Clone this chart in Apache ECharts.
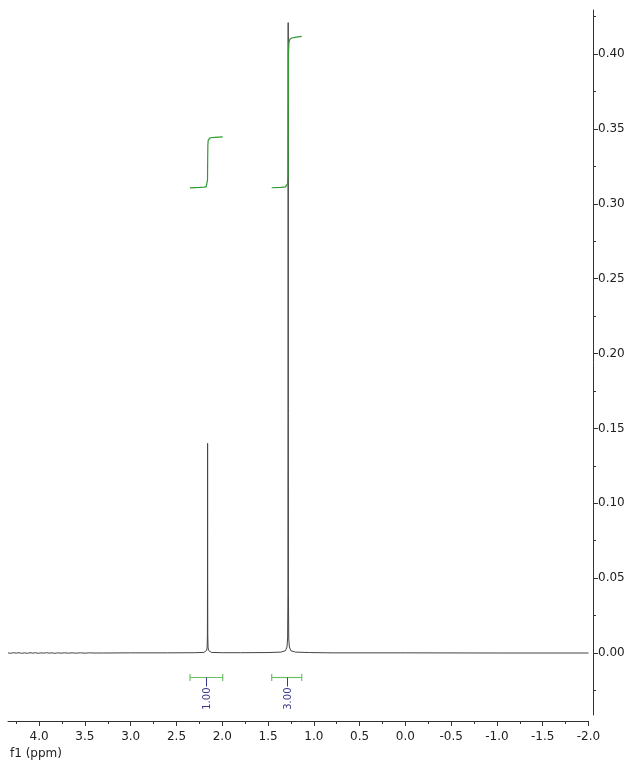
<!DOCTYPE html>
<html>
<head>
<meta charset="utf-8">
<title>1H NMR spectrum</title>
<script src="https://cdn.jsdelivr.net/npm/echarts@6/dist/echarts.min.js"></script>
<style>
  html, body { margin: 0; padding: 0; background: #ffffff; }
  #chart { width: 632px; height: 764px; }
</style>
</head>
<body>
<div id="chart"></div>
<script>
// Spectrum trace: chemical shift (ppm) and intensity
const specPpm = [
  4.34, 4.31, 4.28, 4.25, 4.22, 4.19, 4.16, 4.13, 4.10, 4.07, 4.04, 4.01, 3.98, 3.95, 3.92, 3.89, 3.86, 3.83, 3.80, 3.76,
  3.72, 3.68, 3.64, 3.60, 3.55, 3.50, 3.45, 3.40, 3.30, 3.00, 2.60, 2.30, 2.20, 2.18, 2.170, 2.165, 2.162, 2.1608, 2.160,
  2.1592, 2.158, 2.155, 2.150, 2.14, 2.12, 2.00, 1.80, 1.50, 1.36, 1.31, 1.293, 1.286, 1.2825, 1.2808, 1.280, 1.2792,
  1.2775, 1.274, 1.267, 1.25, 1.20, 1.05, 0.80, 0.00, -1.00, -2.00
];
const specInt = [
  0.0001, -0.0002, 0.0002, -0.0001, 0.0002, -0.0002, 0.0001, -0.0002, 0.0002, -0.0001, 0.0002, -0.0002, 0.0001, -0.0001, 0.0002, -0.0001, 0.0001, -0.0002, 0.0001, -0.0001,
  0.0001, -0.0001, 0.0001, -0.0001, 0.0001, -0.0001, 0.0001, 0.0000, 0.0000, 0.0001, 0.0001, 0.0002, 0.0004, 0.0008, 0.0018, 0.004, 0.012, 0.06, 0.140,
  0.06, 0.012, 0.004, 0.0018, 0.0008, 0.0004, 0.0002, 0.0002, 0.0003, 0.0006, 0.0015, 0.004, 0.010, 0.040, 0.16, 0.421, 0.16,
  0.040, 0.010, 0.004, 0.0015, 0.0006, 0.0003, 0.0001, 0.0001, 0.0000, 0.0000
];

// Integral curves
const integ1Ppm = [2.352, 2.25, 2.20, 2.175, 2.166, 2.161, 2.159, 2.157, 2.153, 2.145, 2.13, 2.08, 1.995];
const integ1Val = [0.3106, 0.3109, 0.3111, 0.3114, 0.3122, 0.316, 0.330, 0.3395, 0.3425, 0.3436, 0.3441, 0.3444, 0.3447];
const integ2Ppm = [1.460, 1.36, 1.31, 1.295, 1.286, 1.281, 1.279, 1.277, 1.272, 1.262, 1.24, 1.19, 1.132];
const integ2Val = [0.3107, 0.3110, 0.3113, 0.3118, 0.3135, 0.320, 0.360, 0.400, 0.4075, 0.4098, 0.4107, 0.4113, 0.4118];

// Integration ranges and their values
const rangeStart = [2.352, 1.460];
const rangeEnd = [1.995, 1.132];
const rangeValue = ['1.00', '3.00'];

// Axis ticks
const xMajorTicks = [-2.0, -1.5, -1.0, -0.5, 0.0, 0.5, 1.0, 1.5, 2.0, 2.5, 3.0, 3.5, 4.0];
const xMinorTicks = [-1.75, -1.25, -0.75, -0.25, 0.25, 0.75, 1.25, 1.75, 2.25, 2.75, 3.25, 3.75, 4.25];
const yMajorTicks = [0.00, 0.05, 0.10, 0.15, 0.20, 0.25, 0.30, 0.35, 0.40];
const yMinorTicks = [-0.025, 0.025, 0.075, 0.125, 0.175, 0.225, 0.275, 0.325, 0.375, 0.425];

const X_MIN = -2.0, X_MAX = 4.34;
const Y_MIN = -0.0414, Y_MAX = 0.4294;
const FONT = 'DejaVu Sans';
const AXIS_COLOR = '#333333';
const BAR_LEVEL = -0.016;

const zip = (a, b) => a.map((v, i) => [v, b[i]]);

const chart = echarts.init(document.getElementById('chart'), null, { renderer: 'canvas' });

const baseX = {
  type: 'value', min: X_MIN, max: X_MAX, inverse: true, position: 'bottom', offset: 6,
  splitLine: { show: false }
};
const baseY = {
  type: 'value', min: Y_MIN, max: Y_MAX, position: 'right', offset: 4.5,
  splitLine: { show: false }
};

chart.setOption({
  animation: false,
  backgroundColor: '#ffffff',
  grid: { left: 8, right: 43.5, top: 10, bottom: 49, containLabel: false },
  xAxis: [
    Object.assign({}, baseX, {
      axisLine: { show: true, onZero: false, lineStyle: { color: AXIS_COLOR, width: 1 } },
      axisTick: { show: true, customValues: xMajorTicks, length: 5, lineStyle: { color: AXIS_COLOR } },
      axisLabel: {
        show: true, customValues: xMajorTicks, margin: 10,
        formatter: v => v.toFixed(1),
        fontFamily: FONT, fontSize: 12, color: '#222222'
      }
    }),
    Object.assign({}, baseX, {
      axisLine: { show: false, onZero: false },
      axisTick: { show: true, customValues: xMinorTicks, length: 3, lineStyle: { color: AXIS_COLOR } },
      axisLabel: { show: false }
    })
  ],
  yAxis: [
    Object.assign({}, baseY, {
      axisLine: { show: true, onZero: false, lineStyle: { color: AXIS_COLOR, width: 1 } },
      axisTick: { show: true, customValues: yMajorTicks, length: 5, lineStyle: { color: AXIS_COLOR } },
      axisLabel: {
        show: true, customValues: yMajorTicks, margin: 5,
        formatter: v => v.toFixed(2),
        fontFamily: FONT, fontSize: 12, color: '#222222'
      }
    }),
    Object.assign({}, baseY, {
      axisLine: { show: false, onZero: false },
      axisTick: { show: true, customValues: yMinorTicks, length: 3, lineStyle: { color: AXIS_COLOR } },
      axisLabel: { show: false }
    })
  ],
  graphic: [
    {
      type: 'text', left: 10, top: 748,
      style: { text: 'f1 (ppm)', fontFamily: FONT, fontSize: 12, fill: '#222222' }
    }
  ],
  series: [
    {
      name: 'spectrum', type: 'line', xAxisIndex: 0, yAxisIndex: 0,
      data: zip(specPpm, specInt), showSymbol: false, symbol: 'none',
      lineStyle: { color: '#444444', width: 1 }, z: 3
    },
    {
      name: 'integral 1', type: 'line', xAxisIndex: 0, yAxisIndex: 0,
      data: zip(integ1Ppm, integ1Val), showSymbol: false, symbol: 'none',
      lineStyle: { color: '#2f9a2f', width: 1.2 }, z: 4
    },
    {
      name: 'integral 2', type: 'line', xAxisIndex: 0, yAxisIndex: 0,
      data: zip(integ2Ppm, integ2Val), showSymbol: false, symbol: 'none',
      lineStyle: { color: '#2f9a2f', width: 1.2 }, z: 4
    },
    {
      name: 'ranges', type: 'custom', xAxisIndex: 0, yAxisIndex: 0,
      data: rangeStart.map((s, i) => [s, rangeEnd[i], rangeValue[i]]),
      renderItem: function (params, api) {
        const a = api.coord([api.value(0), BAR_LEVEL]);
        const b = api.coord([api.value(1), BAR_LEVEL]);
        const y = Math.round(a[1]) + 0.5;
        const cx = Math.round((a[0] + b[0]) / 2) + 0.5;
        const green = { stroke: '#6cbf6a', lineWidth: 1.2 };
        const blue = { stroke: '#3a3a8c', lineWidth: 1 };
        const label = rangeValue[params.dataIndex];
        return {
          type: 'group',
          children: [
            { type: 'line', shape: { x1: a[0], y1: y, x2: b[0], y2: y }, style: green },
            { type: 'line', shape: { x1: a[0], y1: y - 3.5, x2: a[0], y2: y + 3.5 }, style: green },
            { type: 'line', shape: { x1: b[0], y1: y - 3.5, x2: b[0], y2: y + 3.5 }, style: green },
            { type: 'line', shape: { x1: cx, y1: y, x2: cx, y2: y + 9 }, style: blue },
            {
              type: 'text', x: cx + 0.5, y: y + 10, rotation: Math.PI / 2,
              style: {
                text: label, fontFamily: FONT, fontSize: 10, fill: '#3a3a8c',
                align: 'right', verticalAlign: 'middle'
              }
            }
          ]
        };
      },
      z: 5
    }
  ]
});
</script>
</body>
</html>
